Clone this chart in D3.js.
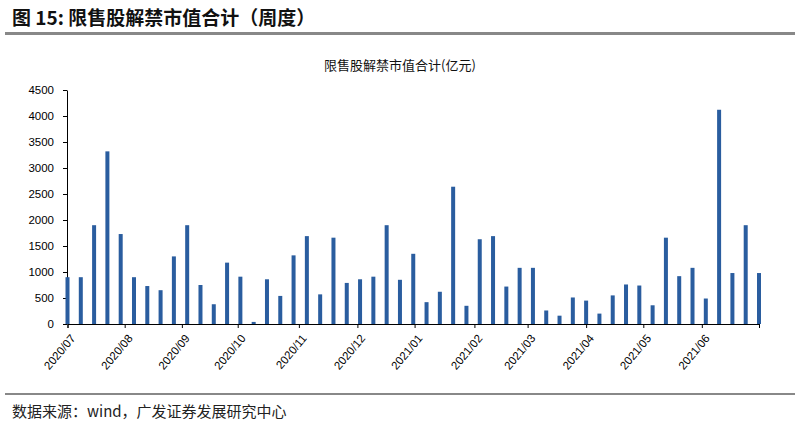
<!DOCTYPE html>
<html><head><meta charset="utf-8">
<script src="https://cdn.jsdelivr.net/npm/d3@7"></script>
<style>body{margin:0;background:#fff}</style></head>
<body><svg id="c" width="805" height="431"></svg>
<script>
const values=[900,900,1900,3320,1730,900,730,650,1300,1900,750,380,1180,910,40,860,540,1320,1690,570,1660,790,860,910,1900,850,1350,420,620,2640,350,1630,1690,720,1080,1080,260,160,510,450,200,550,760,740,360,1660,920,1080,490,4120,980,1900,980];
const monthLabels=["2020/07","2020/08","2020/09","2020/10","2020/11","2020/12","2021/01","2021/02","2021/03","2021/04","2021/05","2021/06"];
const monthPos=[0,4.3,8.6,12.8,17.4,21.8,26.1,30.6,34.6,39,43.3,47.7,52];
const yTicks=[0,500,1000,1500,2000,2500,3000,3500,4000,4500];
const svg=d3.select("#c");
const font="'Noto Sans CJK SC','Liberation Sans',sans-serif";
svg.append("text").attr("x",12).attr("y",25).attr("font-family",font).attr("font-weight","bold").attr("font-size",19).attr("fill","#111").text("图 15: 限售股解禁市值合计（周度）");
svg.append("rect").attr("x",5).attr("y",32).attr("width",790).attr("height",3).attr("fill","#888");
svg.append("rect").attr("x",5).attr("y",393).attr("width",790).attr("height",2).attr("fill","#888");
svg.append("text").attr("x",12).attr("y",417).attr("font-family",font).attr("font-size",15).attr("fill","#222").text("数据来源：wind，广发证券发展研究中心");
svg.append("text").attr("x",400).attr("y",70).attr("text-anchor","middle").attr("font-family",font).attr("font-size",13).attr("fill","#111").text("限售股解禁市值合计(亿元)");
const x=d3.scaleLinear().domain([0,52]).range([67.5,759]);
const y=d3.scaleLinear().domain([0,4500]).range([324,90]);
svg.append("g").attr("transform","translate(67,0)").call(d3.axisLeft(y).tickValues(yTicks).tickFormat(d3.format("d")).tickSize(4).tickSizeOuter(0))
 .call(g=>{g.selectAll("text").attr("font-family","'Liberation Sans',Arial").attr("font-size",11.5).attr("fill","#000").attr("x",-13);g.selectAll("line,path").attr("stroke","#000");});
svg.selectAll(".bar").data(values).enter().append("rect").attr("fill","#2a5d9f")
 .attr("x",(d,i)=>x(i)-2).attr("width",4).attr("y",d=>y(d)).attr("height",d=>324-y(d));
const xa=svg.append("g").attr("transform","translate(0,324)").call(d3.axisBottom(x).tickValues(monthPos).tickSize(4).tickFormat((d,i)=>monthLabels[i]||""));
xa.selectAll("line,path").attr("stroke","#000");
xa.selectAll("text").attr("font-family","'Liberation Sans',Arial").attr("font-size",11.5).attr("fill","#000")
 .attr("text-anchor","end").attr("y",0).attr("dy","0.35em").attr("transform","translate(5,12) rotate(-50)");
</script></body></html>
